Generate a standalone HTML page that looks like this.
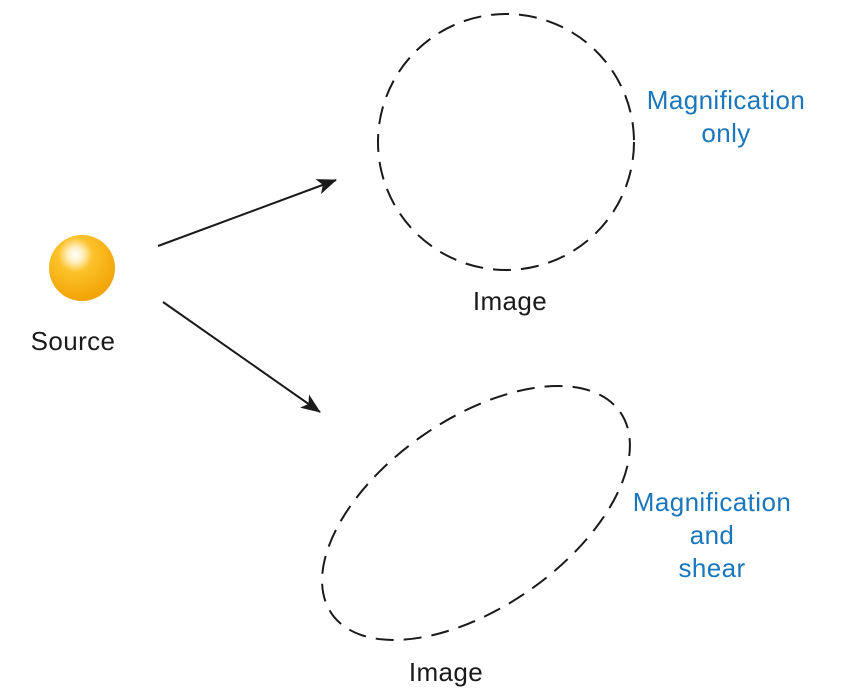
<!DOCTYPE html>
<html><head><meta charset="utf-8"><style>
html,body{margin:0;padding:0;background:#fff;}
svg{display:block;}
text{font-family:"Liberation Sans",Arial,sans-serif;font-size:26px;letter-spacing:0.4px;}
</style></head><body>
<svg width="858" height="696" viewBox="0 0 858 696" xmlns="http://www.w3.org/2000/svg">
<defs>
<radialGradient id="sun" cx="0.4" cy="0.3" r="0.75">
<stop offset="0" stop-color="#ffffff"/>
<stop offset="0.15" stop-color="#fff0c0"/>
<stop offset="0.35" stop-color="#fcc22a"/>
<stop offset="1" stop-color="#f0a000"/>
</radialGradient>
<marker id="ah" markerWidth="20" markerHeight="16" refX="19" refY="8" orient="auto" markerUnits="userSpaceOnUse" viewBox="0 0 20 16">
<path d="M0,0 L20,8 L0,16 L5,8 z" fill="#1a1a1a"/>
</marker>
</defs>
<circle cx="82" cy="268" r="33" fill="url(#sun)"/>
<text x="73" y="350" text-anchor="middle" fill="#1a1a1a">Source</text>
<line x1="158" y1="246" x2="336" y2="180" stroke="#1a1a1a" stroke-width="2" marker-end="url(#ah)"/>
<line x1="163" y1="302" x2="320" y2="412" stroke="#1a1a1a" stroke-width="2" marker-end="url(#ah)"/>
<circle cx="506" cy="142" r="128" fill="none" stroke="#1a1a1a" stroke-width="2" stroke-dasharray="18 10"/>
<text x="510" y="310" text-anchor="middle" fill="#1a1a1a">Image</text>
<ellipse cx="476" cy="513" rx="176" ry="94" transform="rotate(-35 476 513)" fill="none" stroke="#1a1a1a" stroke-width="2" stroke-dasharray="18 10"/>
<text x="446" y="681" text-anchor="middle" fill="#1a1a1a">Image</text>
<text x="726" y="109" text-anchor="middle" fill="#1a76bd">Magnification</text>
<text x="726" y="142" text-anchor="middle" fill="#1a76bd">only</text>
<text x="712" y="511" text-anchor="middle" fill="#1a76bd">Magnification</text>
<text x="712" y="544" text-anchor="middle" fill="#1a76bd">and</text>
<text x="712" y="577" text-anchor="middle" fill="#1a76bd">shear</text>
</svg>
</body></html>
